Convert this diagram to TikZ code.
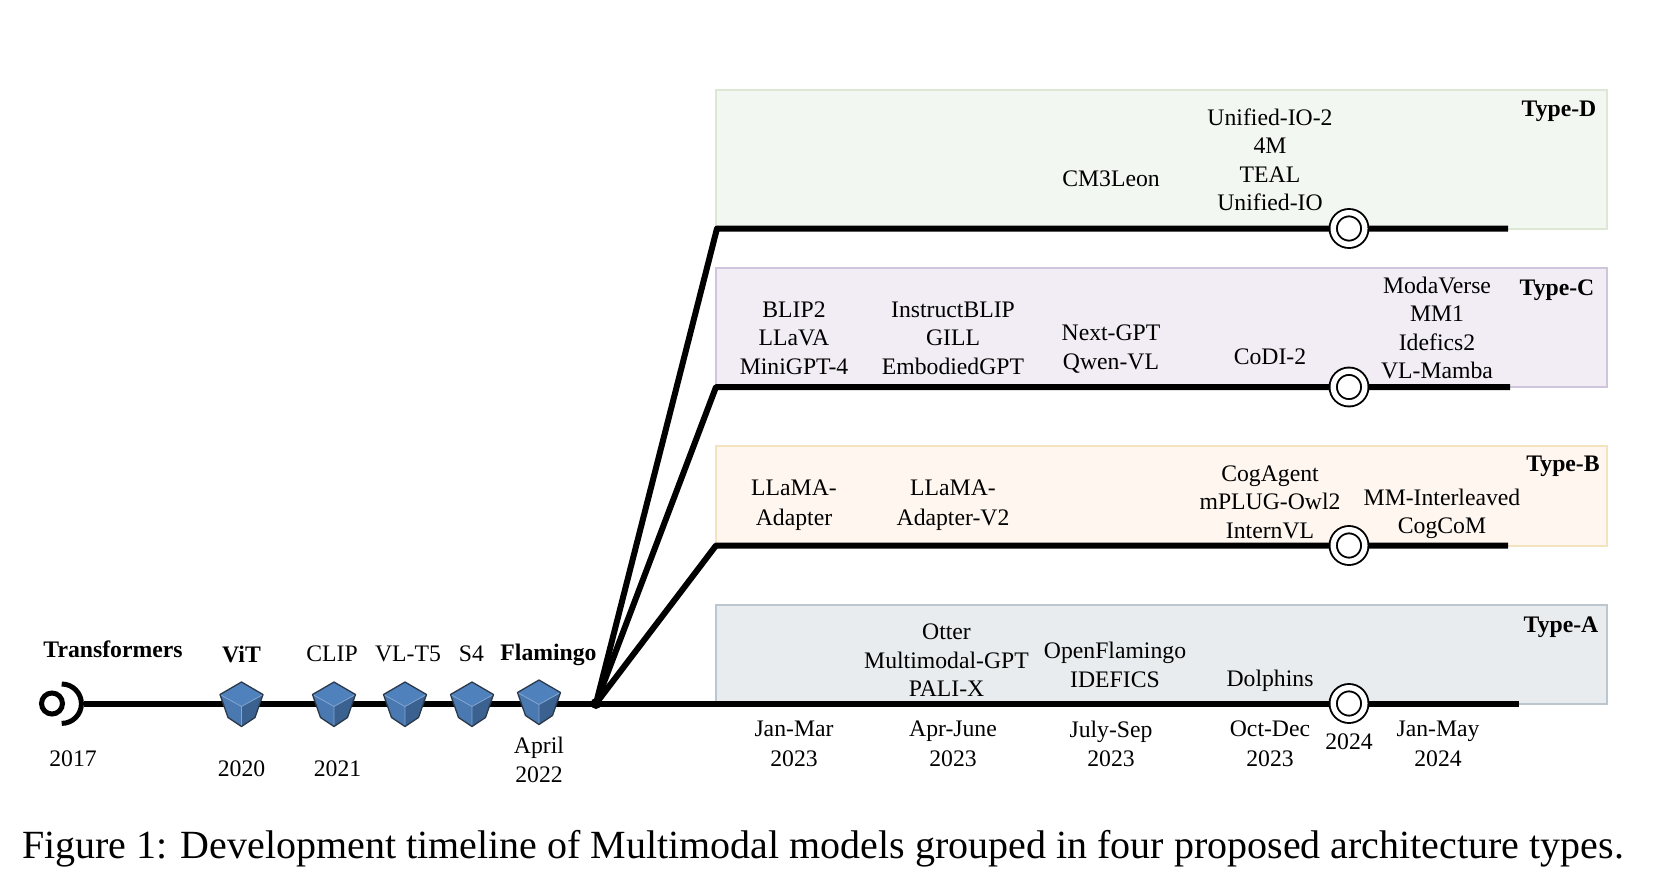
\documentclass[tikz,border=0pt]{standalone}
\usepackage{fontspec}
\setmainfont{Liberation Serif}
\definecolor{boxDfill}{HTML}{F3F7F1}
\definecolor{boxDedge}{HTML}{DCE8D3}
\definecolor{boxCfill}{HTML}{F2EDF4}
\definecolor{boxCedge}{HTML}{CFC5DD}
\definecolor{boxBfill}{HTML}{FEF6EF}
\definecolor{boxBedge}{HTML}{F4E3BF}
\definecolor{boxAfill}{HTML}{E9ECEE}
\definecolor{boxAedge}{HTML}{BCC6CF}
\definecolor{cubeTop}{HTML}{4F81BD}
\definecolor{cubeLeft}{HTML}{4A78B0}
\definecolor{cubeRight}{HTML}{3B6190}
\definecolor{cubeEdge}{HTML}{2B3A4A}
\tikzset{
    modelname/.style = {align=center, inner sep=0pt, font=\fontsize{23.7}{28.5}\selectfont},
    widename/.style  = {modelname, font=\fontsize{23.7}{29.6}\selectfont},
    boldname/.style  = {modelname, font=\fontsize{23.7}{28.5}\selectfont\bfseries},
    timeline/.style  = {line width=6pt},
    milestone/.style = {circle, draw=black, fill=white, line width=1.9pt, double=white,
                        double distance=5.4pt, minimum size=31.6pt, inner sep=0pt, outer sep=0pt},
    typebox/.style   = {line width=2pt},
    pics/cube/.style = {code = {
        \fill [cubeTop] (-21.5,-9) -- (0,-21.5) -- (21.5,-9) -- (0,3) -- cycle;
        \fill [cubeLeft] (-21.5,-9) -- (0,3) -- (0,23) -- (-13.5,14) -- cycle;
        \fill [cubeRight] (21.5,-9) -- (0,3) -- (0,23) -- (13.5,14) -- cycle;
        \draw [cubeTop!70!white, line width=0.8pt] (-21.5,-9) -- (0,3) -- (21.5,-9) (0,3) -- (0,23);
        \draw [cubeEdge, line width=1.3pt, line join=round] (-21.5,-9) -- (0,-21.5) -- (21.5,-9) -- (13.5,14) -- (0,23) -- (-13.5,14) -- cycle;
    }}
}
\begin{document}
\begin{tikzpicture}%
            [x=1pt, y=-1pt]
            \useasboundingbox (0,0) rectangle (1654,880);

            % type boxes
            \draw [typebox, fill=boxDfill, draw=boxDedge] (716,90) rectangle (1607,228.5);
            \draw [typebox, fill=boxCfill, draw=boxCedge] (716,268) rectangle (1607,387);
            \draw [typebox, fill=boxBfill, draw=boxBedge] (716,446) rectangle (1607,545.5);
            \draw [typebox, fill=boxAfill, draw=boxAedge] (716,605) rectangle (1607,703.5);

            \node [boldname] (typeD) at (1559,111) {Type-D};
            \node [boldname] (typeC) at (1557,290) {Type-C};
            \node [boldname] (typeB) at (1563,466) {Type-B};
            \node [boldname] (typeA) at (1561,627) {Type-A};

            % branches
            \coordinate (startA) at (84,703.5);
            \coordinate (branch) at (596,703.5);
            \coordinate (bendD) at (717,228.5);
            \coordinate (bendC) at (716,387);
            \coordinate (bendB) at (716,545.5);
            \coordinate (endD) at (1508,228.5);
            \coordinate (endC) at (1510,387);
            \coordinate (endB) at (1508,545.5);
            \coordinate (endA) at (1519,703.5);

            \draw [timeline] (startA) -- (endA);
            \draw [timeline, line join=round] (branch) -- (bendD) -- (endD);
            \draw [timeline, line join=round] (branch) -- (bendC) -- (endC);
            \draw [timeline, line join=round] (branch) -- (bendB) -- (endB);
            \fill (branch) circle (5.5);

            \node [milestone] (msD) at (1349,228.5) {};
            \node [milestone] (msC) at (1349,387) {};
            \node [milestone] (msB) at (1349,545.5) {};
            \node [milestone] (msA) at (1349,703.5) {};

            % start symbol
            \coordinate (ringc) at (52,703.5);
            \draw [line width=5pt] (ringc) circle (10.5);
            \draw [line width=5pt] (61.7,684) arc (-90:90:19.7);

            % early models
            \pic at (241.5,703.5) {cube};
            \pic at (334,703.5) {cube};
            \pic at (405,703.5) {cube};
            \pic at (472,703.5) {cube};
            \pic at (539,701.5) {cube};

            \node [boldname] (transformers) at (113,649) {Transformers};
            \node [boldname] (vit) at (241.5,654) {ViT};
            \node [modelname] (clip) at (332,654) {CLIP};
            \node [modelname] (vlt5) at (408,654) {VL-T5};
            \node [modelname] (s4) at (471.5,654) {S4};
            \node [boldname] (flamingo) at (548.5,655) {Flamingo};

            \node [modelname] (y2017) at (73,758.5) {2017};
            \node [modelname] (y2020) at (241.5,769) {2020};
            \node [modelname] (y2021) at (337.5,769) {2021};
            \node [widename] (y2022) at (539,760) {April\\2022};

            % dates
            \node [widename] (q1) at (794,744) {Jan-Mar\\2023};
            \node [widename] (q2) at (953,744) {Apr-June\\2023};
            \node [widename] (q3) at (1111,744) {July-Sep\\2023};
            \node [widename] (q4) at (1270,744) {Oct-Dec\\2023};
            \node [modelname] (y2024) at (1349,742) {2024};
            \node [widename] (q5) at (1438,744) {Jan-May\\2024};

            % Type-D models
            \node [modelname] (cm3) at (1111,179) {CM3Leon};
            \node [modelname] (unified) at (1270,160) {Unified-IO-2\\4M\\TEAL\\Unified-IO};

            % Type-C models
            \node [modelname] (blip) at (794,338) {BLIP2\\LLaVA\\MiniGPT-4};
            \node [modelname] (instruct) at (953,338) {InstructBLIP\\GILL\\EmbodiedGPT};
            \node [widename] (nextgpt) at (1111,349) {Next-GPT\\Qwen-VL};
            \node [modelname] (codi) at (1270,357) {CoDI-2};
            \node [modelname] (moda) at (1437,328) {ModaVerse\\MM1\\Idefics2\\VL-Mamba};

            % Type-B models
            \node [widename] (adapter) at (794,505) {LLaMA-\\Adapter};
            \node [widename] (adapterv) at (953,505) {LLaMA-\\Adapter-V2};
            \node [modelname] (cog) at (1270,502) {CogAgent\\mPLUG-Owl2\\InternVL};
            \node [modelname] (inter) at (1442,514) {MM-Interleaved\\CogCoM};

            % Type-A models
            \node [modelname] (otter) at (946.5,660.5) {Otter\\Multimodal-GPT\\PALI-X};
            \node [modelname] (open) at (1115,665) {OpenFlamingo\\IDEFICS};
            \node [modelname] (dolphins) at (1270,681) {Dolphins};

            \node [inner sep=0pt, font=\fontsize{40}{46}\selectfont] (caption) at (823,849) {Figure 1: Development timeline of Multimodal models grouped in four proposed architecture types.};
        \end{tikzpicture}
\end{document}
